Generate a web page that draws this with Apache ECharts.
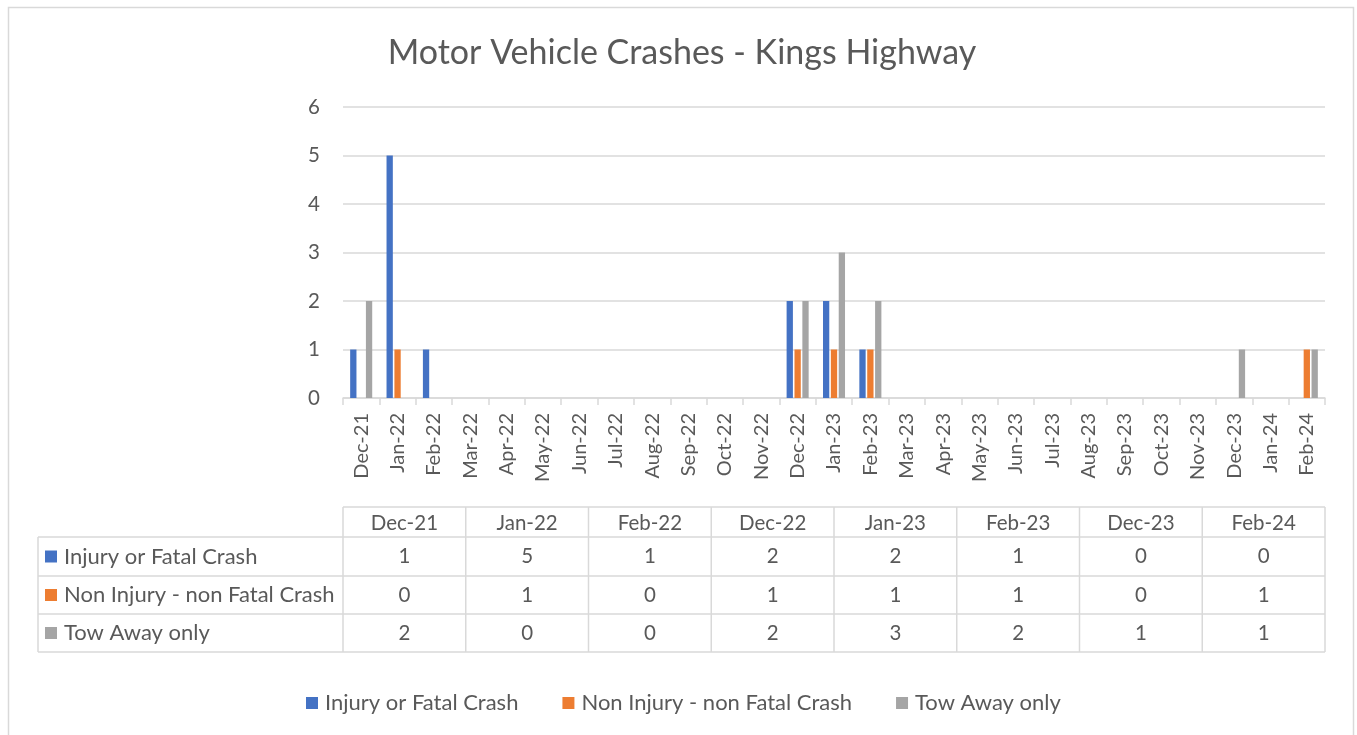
<!DOCTYPE html>
<html>
<head>
<meta charset="utf-8">
<script src="https://cdn.jsdelivr.net/npm/echarts@6/dist/echarts.min.js"></script>
<style>html,body{margin:0;padding:0;background:#fff;}#c{width:1357px;height:735px;}</style>
</head>
<body>
<div id="c"></div>
<script>
var months = ['Dec-21','Jan-22','Feb-22','Mar-22','Apr-22','May-22','Jun-22','Jul-22','Aug-22','Sep-22','Oct-22','Nov-22','Dec-22','Jan-23','Feb-23','Mar-23','Apr-23','May-23','Jun-23','Jul-23','Aug-23','Sep-23','Oct-23','Nov-23','Dec-23','Jan-24','Feb-24'];
var injury    = [1,5,1,0,0,0,0,0,0,0,0,0,2,2,1,0,0,0,0,0,0,0,0,0,0,0,0];
var nonInjury = [0,1,0,0,0,0,0,0,0,0,0,0,1,1,1,0,0,0,0,0,0,0,0,0,0,0,1];
var towAway   = [2,0,0,0,0,0,0,0,0,0,0,0,2,3,2,0,0,0,0,0,0,0,0,0,1,0,1];
var tableMonths = ['Dec-21','Jan-22','Feb-22','Dec-22','Jan-23','Feb-23','Dec-23','Feb-24'];
var seriesNames = ['Injury or Fatal Crash','Non Injury - non Fatal Crash','Tow Away only'];
var colors = ['#4472c4','#ed7d31','#a5a5a5'];
var yTicks = [0,1,2,3,4,5,6];

var FONT = 'Lato';
var TXT = '#595959';
var LINE = '#d9d9d9';

var chart = echarts.init(document.getElementById('c'));
var seriesData = [injury, nonInjury, towAway];

// table geometry
var tX0 = 343, tX1 = 1325, labelX0 = 38;
var rowY = [507, 537, 576, 614, 652];
var colW = (tX1 - tX0) / tableMonths.length;

var g = [];
g.push({type:'rect', shape:{x:8.5,y:7.5,width:1345,height:740}, style:{fill:null, stroke:LINE, lineWidth:1.5}, silent:true});
g.push({type:'line', shape:{x1:tX0,y1:rowY[0],x2:tX1,y2:rowY[0]}, style:{stroke:LINE,lineWidth:1.5}});
for (var r = 1; r < rowY.length; r++) {
  g.push({type:'line', shape:{x1:labelX0,y1:rowY[r],x2:tX1,y2:rowY[r]}, style:{stroke:LINE,lineWidth:1.5}});
}
g.push({type:'line', shape:{x1:labelX0,y1:rowY[1],x2:labelX0,y2:rowY[4]}, style:{stroke:LINE,lineWidth:1.5}});
for (var c = 0; c <= tableMonths.length; c++) {
  var x = tX0 + c * colW;
  g.push({type:'line', shape:{x1:x,y1:rowY[0],x2:x,y2:rowY[4]}, style:{stroke:LINE,lineWidth:1.5}});
}
tableMonths.forEach(function(m, i){
  g.push({type:'text', x: tX0 + (i+0.5)*colW, y:(rowY[0]+rowY[1])/2+1, style:{text:m, fill:TXT, font:'20.5px '+FONT, textAlign:'center', textVerticalAlign:'middle'}});
});
seriesNames.forEach(function(name, s){
  var yc = (rowY[s+1]+rowY[s+2])/2;
  g.push({type:'rect', shape:{x:45,y:yc-6,width:12,height:12}, style:{fill:colors[s]}});
  g.push({type:'text', x:64, y:yc, style:{text:name, fill:TXT, font:'22px '+FONT, textAlign:'left', textVerticalAlign:'middle'}});
  tableMonths.forEach(function(m, i){
    var v = seriesData[s][months.indexOf(m)];
    g.push({type:'text', x: tX0 + (i+0.5)*colW, y:yc, style:{text:String(v), fill:TXT, font:'20.5px '+FONT, textAlign:'center', textVerticalAlign:'middle'}});
  });
});

var option = {
  animation:false,
  backgroundColor:'#fff',
  title:{text:'Motor Vehicle Crashes - Kings Highway', left:677, top:31, textAlign:'center',
    textStyle:{fontFamily:FONT, fontSize:34, fontWeight:'normal', color:TXT}},
  legend:{left:301, top:687, itemWidth:12, itemHeight:12, itemGap:44, icon:'rect',
    textStyle:{fontFamily:FONT, fontSize:22, color:TXT, padding:[0,0,0,2]}, data:seriesNames},
  grid:{left:343, right:32, top:107, height:291},
  xAxis:{type:'category', data:months,
    axisLine:{lineStyle:{color:LINE, width:1.5}},
    axisTick:{show:true, length:7, lineStyle:{color:LINE, width:1.5}},
    axisLabel:{rotate:90, margin:15, fontFamily:FONT, fontSize:20, color:TXT, interval:0}},
  yAxis:{type:'value', min:0, max:6, interval:1,
    axisLine:{show:false}, axisTick:{show:false},
    splitLine:{lineStyle:{color:LINE, width:1.5}},
    axisLabel:{margin:23, fontFamily:FONT, fontSize:20.5, color:TXT,
      formatter:function(v){ return yTicks.indexOf(v) >= 0 ? String(v) : ''; }}},
  series: seriesNames.map(function(n, i){
    return {name:n, type:'bar', data:seriesData[i], barWidth:6.3, barGap:'25%',
      itemStyle:{color:colors[i]}};
  }),
  graphic:g
};
chart.setOption(option);
</script>
</body>
</html>
